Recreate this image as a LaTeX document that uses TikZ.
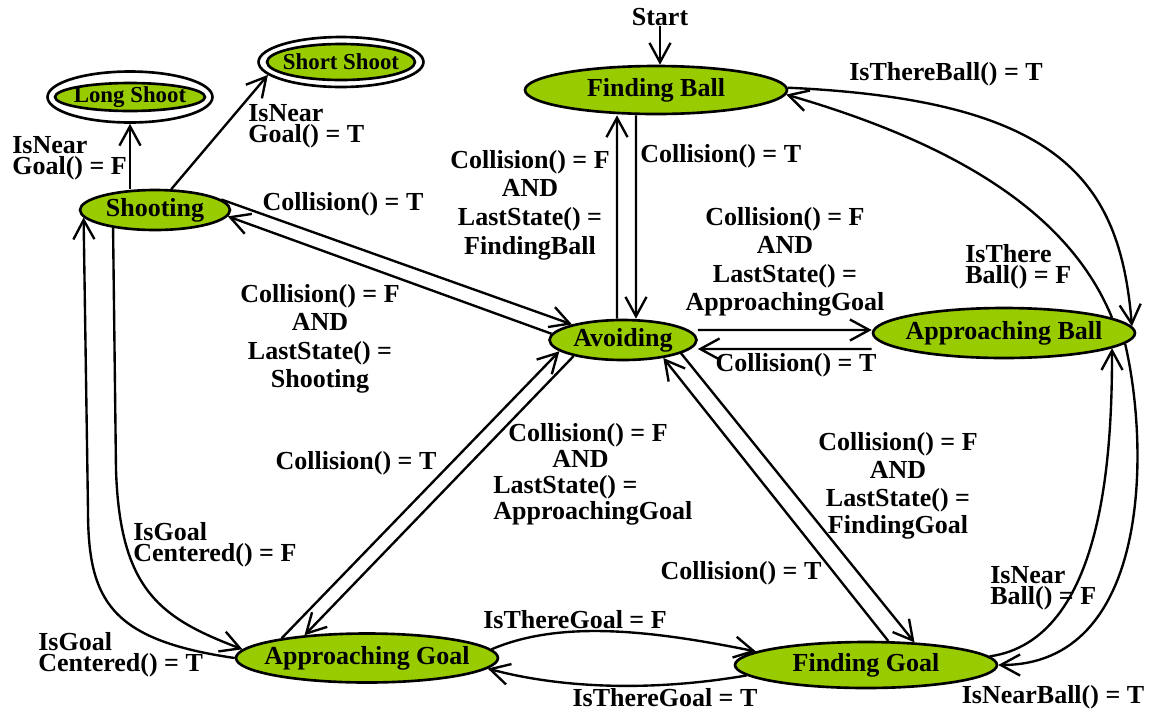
\documentclass[tikz,border=0pt]{standalone}
\usepackage{fontspec}
\setmainfont{Liberation Serif}
\usetikzlibrary{arrows.meta,shapes.geometric}
\definecolor{stfill}{HTML}{99CC00}
\AtBeginDocument{\lineskiplimit=-20pt\relax}
\begin{document}
\begin{tikzpicture}[x=0.02cm,y=-0.02cm,
  state/.style={ellipse,draw,line width=1.5pt,fill=stfill,inner xsep=-1.5cm,inner ysep=-0.4cm,
    font=\bfseries\fontsize{14.8}{16}\selectfont},
  smallstate/.style={state,font=\bfseries\fontsize{13}{14}\selectfont},
  outerring/.style={ellipse,draw,line width=1.5pt,fill=white,inner sep=0pt},
  arr/.style={line width=1.35pt,-{Straight Barb[length=11pt,width=12pt,line width=1.35pt]}},
  lab/.style={font=\bfseries\fontsize{14.8}{16}\selectfont,inner sep=0pt,align=center},
  labt/.style={font=\bfseries\fontsize{14.8}{11.8}\selectfont,
    inner sep=0pt,align=left,anchor=west}]
\useasboundingbox (0,0) rectangle (1153,711);

% states
\node[state,minimum width=5.24cm,minimum height=0.96cm] (fb) at (656,90) {Finding Ball};
\node[state,minimum width=2.94cm,minimum height=0.8cm] (av) at (623,340) {Avoiding};
\node[state,minimum width=5.24cm,minimum height=1.0cm] (ab) at (1004,333) {Approaching Ball};
\node[state,minimum width=5.24cm,minimum height=0.98cm] (ag) at (367,658) {Approaching Goal};
\node[state,minimum width=5.24cm,minimum height=0.92cm] (fg) at (866,665) {Finding Goal};
\node[state,minimum width=3.0cm,minimum height=0.8cm] (sh) at (155,210) {Shooting};
\node[outerring,minimum width=3.3cm,minimum height=1.02cm] (lso) at (130,97) {};
\node[smallstate,minimum width=3.0cm,minimum height=0.56cm] (ls) at (130,97) {Long Shoot};
\node[outerring,minimum width=3.3cm,minimum height=1.0cm] (sso) at (341,62) {};
\node[smallstate,minimum width=2.96cm,minimum height=0.72cm] (ss) at (341,62) {Short Shoot};

% start
\node[lab] (start) at (660,17) {Start};
\draw[arr] (start.south) -- (start.south |- fb.north);

% shooting -> final states
\draw[arr] (lso.south |- sh.north) -- (lso.south);
\node[labt] (l1) at (12,158) {IsNear\\Goal() = F};
\draw[arr] (sh.52) -- (sso.190);
\node[labt] (l2) at (248,126) {IsNear\\Goal() = T};

% shooting <-> avoiding
\draw[arr] (sh.9) -- (av.163);
\node[lab] (l3) at (343,204) {Collision() = T};
\draw[arr] (av.175) -- (sh.-5);
\node[lab,font=\bfseries\fontsize{14.8}{16.2}\selectfont] (l4) at (320,339) {Collision() = F\\AND\\LastState() =\\Shooting};

% finding ball <-> avoiding
\draw[arr] ([xshift=-0.4cm]fb.south) -- ([xshift=0.26cm]av.north);
\node[lab,anchor=west] (l5) at (640,156) {Collision() = T};
\draw[arr] ([xshift=-0.12cm]av.north) -- ([xshift=-0.78cm]fb.south);
\node[lab,font=\bfseries\fontsize{14.8}{16.3}\selectfont] (l6) at (530,205) {Collision() = F\\AND\\LastState() =\\FindingBall};

% avoiding <-> approaching ball
\draw[arr] ([yshift=0.2cm]av.east) -- ([yshift=0.06cm]ab.west);
\node[lab,font=\bfseries\fontsize{14.8}{16.2}\selectfont] (l7) at (785,262) {Collision() = F\\AND\\LastState() =\\ApproachingGoal};
\draw[arr] ([yshift=-0.32cm]ab.west) -- ([yshift=-0.18cm]av.east);
\node[lab] (l8) at (796,365) {Collision() = T};

% finding ball <-> approaching ball
\draw[arr] (fb.1) .. controls (1060,100) and (1120,180) .. (ab.3);
\node[lab] (l9) at (946,74) {IsThereBall() = T};
\draw[arr] (ab.8) .. controls (1070,215) and (960,145) .. (fb.-2);
\node[labt] (l10) at (965,267) {IsThere\\Ball() = F};

% avoiding <-> approaching goal
\draw[arr] (av.198) -- (ag.160);
\node[lab,align=left,anchor=west,font=\bfseries\fontsize{14.8}{14.8}\selectfont] (l11) at (493,474)
  {\hspace*{0.3cm}Collision() = F\\\hspace*{1.18cm}AND\\LastState() =\\ApproachingGoal};
\draw[arr] (ag.167) -- (av.190);
\node[lab] (l12) at (356,463) {Collision() = T};

% avoiding <-> finding goal
\draw[arr] (fg.47) -- (av.-24);
\node[lab] (l13) at (741,573) {Collision() = T};
\draw[arr] (av.-13) -- (fg.25);
\node[lab,font=\bfseries\fontsize{14.8}{15.8}\selectfont] (l14) at (898,486) {Collision() = F\\AND\\LastState() =\\FindingGoal};

% approaching ball <-> finding goal
\draw[arr] (ab.-5) .. controls (1150,450) and (1150,665) .. (fg.east);
\node[lab] (l15) at (1053,697) {IsNearBall() = T};
\draw[arr] (fg.4) .. controls (1105,640) and (1112,450) .. (ab.-8);
\node[labt] (l16) at (990,588) {IsNear\\Ball() = F};

% approaching goal <-> finding goal
\draw[arr] (ag.4) .. controls (560,620) and (650,630) .. (fg.173);
\node[lab] (l17) at (575,620) {IsThereGoal = F};
\draw[arr] (fg.185) .. controls (650,692) and (560,688) .. (ag.-5);
\node[lab] (l18) at (665,698) {IsThereGoal = T};

% shooting <-> approaching goal
\draw[arr] (sh.203) -- (116,470) .. controls (120,590) and (160,618) .. (ag.176);
\node[labt] (l19) at (133,545) {IsGoal\\Centered() = F};
\draw[arr] (ag.west) .. controls (110,640) and (88,600) .. (88,510) -- (sh.186);
\node[labt] (l20) at (38,655) {IsGoal\\Centered() = T};
\end{tikzpicture}
\end{document}
